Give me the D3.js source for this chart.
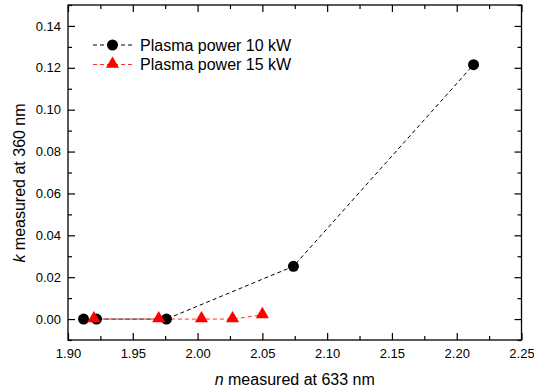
<!DOCTYPE html>
<html>
<head>
<meta charset="utf-8">
<script src="https://cdn.jsdelivr.net/npm/d3@7/dist/d3.min.js"></script>
<style>
  html, body { margin: 0; padding: 0; background: #fff; }
  svg { display: block; font-family: "Liberation Sans", Arial, sans-serif; }
</style>
</head>
<body>
<svg id="chart" width="534" height="389"></svg>
<script>
// ---- data ----
const seriesNames = ["Plasma power 10 kW", "Plasma power 15 kW"];
const n10 = [1.912, 1.922, 1.976, 2.074, 2.213];
const k10 = [0.0, 0.0, 0.0, 0.0252, 0.1215];
const n15 = [1.920, 1.970, 2.003, 2.027, 2.050];
const k15 = [0.0, 0.0, 0.0, 0.0, 0.002];
const xTicks = [1.90, 1.95, 2.00, 2.05, 2.10, 2.15, 2.20, 2.25];
const yTicks = [0.00, 0.02, 0.04, 0.06, 0.08, 0.10, 0.12, 0.14];
const xMinor = [1.925, 1.975, 2.025, 2.075, 2.125, 2.175, 2.225];
const yMinor = [-0.01, 0.01, 0.03, 0.05, 0.07, 0.09, 0.11, 0.13, 0.15];

const svg = d3.select("#chart");
const L = 68, R = 521.5, T = 5, B = 340;
const x = d3.scaleLinear().domain([1.90, 2.25]).range([L, R]);
const y = d3.scaleLinear().domain([-0.01, 0.15]).range([B, T]);

const majorLen = 7, minorLen = 4;
function styleAxis(g) {
  g.select(".domain").remove();
  g.selectAll("line").attr("stroke", "#000").attr("stroke-width", 1.2);
  g.selectAll("text").attr("fill", "#000").attr("font-size", "13px");
}

// bottom axis
svg.append("g").attr("transform", `translate(0,${B})`)
  .call(d3.axisBottom(x).tickValues(xTicks).tickSize(-majorLen).tickPadding(9).tickFormat(d3.format(".2f")))
  .call(styleAxis);
svg.append("g").attr("transform", `translate(0,${B})`)
  .call(d3.axisBottom(x).tickValues(xMinor).tickSize(-minorLen).tickFormat(""))
  .call(styleAxis);
// top axis
svg.append("g").attr("transform", `translate(0,${T})`)
  .call(d3.axisTop(x).tickValues(xTicks).tickSize(-majorLen).tickFormat(""))
  .call(styleAxis);
svg.append("g").attr("transform", `translate(0,${T})`)
  .call(d3.axisTop(x).tickValues(xMinor).tickSize(-minorLen).tickFormat(""))
  .call(styleAxis);
// left axis
svg.append("g").attr("transform", `translate(${L},0)`)
  .call(d3.axisLeft(y).tickValues(yTicks).tickSize(-majorLen).tickPadding(7).tickFormat(d3.format(".2f")))
  .call(styleAxis);
svg.append("g").attr("transform", `translate(${L},0)`)
  .call(d3.axisLeft(y).tickValues(yMinor).tickSize(-minorLen).tickFormat(""))
  .call(styleAxis);
// right axis
svg.append("g").attr("transform", `translate(${R},0)`)
  .call(d3.axisRight(y).tickValues(yTicks).tickSize(-majorLen).tickFormat(""))
  .call(styleAxis);
svg.append("g").attr("transform", `translate(${R},0)`)
  .call(d3.axisRight(y).tickValues(yMinor).tickSize(-minorLen).tickFormat(""))
  .call(styleAxis);

// frame
svg.append("rect").attr("x", L).attr("y", T).attr("width", R - L).attr("height", B - T)
  .attr("fill", "none").attr("stroke", "#000").attr("stroke-width", 1.3);

// axis titles
svg.append("text").attr("x", (L + R) / 2).attr("y", 385).attr("text-anchor", "middle")
  .attr("font-size", "16px").attr("fill", "#000")
  .call(t => { t.append("tspan").attr("font-style", "italic").text("n"); t.append("tspan").text(" measured at 633 nm"); });
svg.append("text").attr("transform", "translate(25,183) rotate(-90)").attr("text-anchor", "middle")
  .attr("font-size", "16px").attr("fill", "#000")
  .call(t => { t.append("tspan").attr("font-style", "italic").text("k"); t.append("tspan").text(" measured at 360 nm"); });

const line = d3.line().x(d => x(d[0])).y(d => y(d[1]));
const d10 = n10.map((v, i) => [v, k10[i]]);
const d15 = n15.map((v, i) => [v, k15[i]]);
const tri = d3.symbol().type(d3.symbolTriangle).size(75);

// lines
svg.append("path").datum(d15).attr("d", line).attr("fill", "none")
  .attr("stroke", "#ff3030").attr("stroke-width", 1).attr("stroke-dasharray", "4,3");
svg.append("path").datum(d10).attr("d", line).attr("fill", "none")
  .attr("stroke", "#000").attr("stroke-width", 1).attr("stroke-dasharray", "4,3");

// markers: black circles then red triangles on top
svg.append("g").selectAll("circle").data(d10).join("circle")
  .attr("cx", d => x(d[0])).attr("cy", d => y(d[1])).attr("r", 5.5).attr("fill", "#000");
svg.append("g").selectAll("path").data(d15).join("path")
  .attr("d", tri).attr("transform", d => `translate(${x(d[0])},${y(d[1]) - 0.5})`).attr("fill", "#ff0000");

// legend
const legY = [45, 64.5];
const legColors = ["#000", "#ff3030"];
seriesNames.forEach((name, i) => {
  const g = svg.append("g");
  g.append("line").attr("x1", 93).attr("x2", 133).attr("y1", legY[i]).attr("y2", legY[i])
    .attr("stroke", legColors[i]).attr("stroke-width", 1).attr("stroke-dasharray", "4,3");
  if (i === 0) {
    g.append("circle").attr("cx", 112.5).attr("cy", legY[i]).attr("r", 5.5).attr("fill", "#000");
  } else {
    g.append("path").attr("d", tri).attr("transform", `translate(112.5,${legY[i] - 0.5})`).attr("fill", "#ff0000");
  }
  g.append("text").attr("x", 140).attr("y", legY[i] + 5.5).attr("font-size", "16px").attr("fill", "#000").text(name);
});
</script>
</body>
</html>
